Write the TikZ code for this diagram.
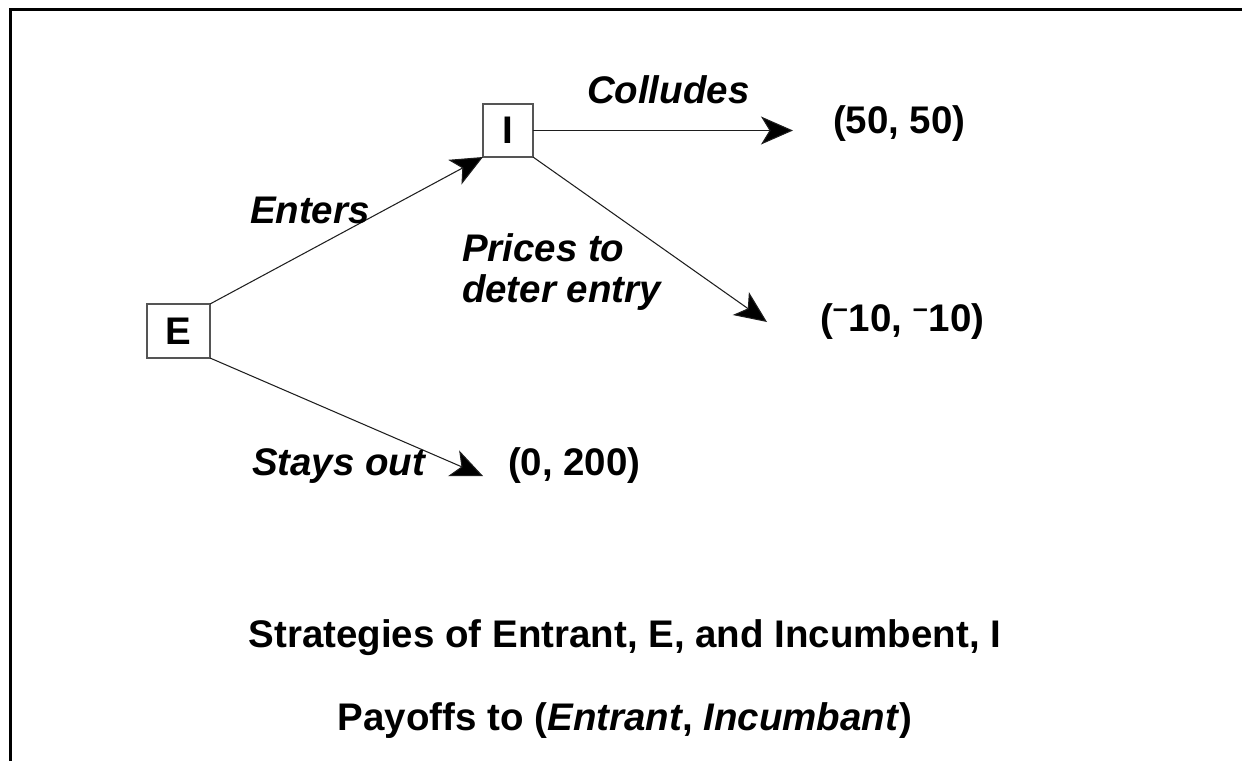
\documentclass[tikz,border=0pt]{standalone}
\usepackage{fontspec}
\setmainfont{Liberation Sans}
\usetikzlibrary{arrows.meta, positioning}
\definecolor{boxgris}{RGB}{85,85,85}
\definecolor{lignegris}{RGB}{30,30,30}

\begin{document}
\begin{tikzpicture}[x=0.02cm, y=-0.02cm,
  every node/.style={font=\fontsize{21.9}{22.8}\selectfont\bfseries, inner sep=0pt, outer sep=0pt},
  player/.style={rectangle, draw=boxgris, line width=0.6pt},
  branch/.style={draw=lignegris, line width=0.6pt, -{Stealth[length=0.64cm, width=0.56cm, inset=0.17cm, fill=black]}},
  move/.style={font=\fontsize{21.9}{22.8}\selectfont\bfseries\itshape, align=left}]
  \useasboundingbox (0,0) rectangle (1242,761);
  \draw[line width=1.7pt] (10.8,761) -- (10.8,9.5) -- (1242,9.5);

  % players
  \node[player, minimum width=1.26cm, minimum height=1.08cm] (E) at (178.5,331) {E};
  \node[player, minimum width=1.0cm, minimum height=1.06cm] (I) at (508,130.5) {I};

  % arrow ends
  \coordinate (collTip) at (793,130.5);
  \coordinate (deterTip) at (767,322);
  \coordinate (outTip) at (483,476);

  \draw[branch] (E.north east) -- (I.south west);
  \draw[branch] (E.south east) -- (outTip);
  \draw[branch] (I.east) -- (collTip);
  \draw[branch] (I.south east) -- (deterTip);

  % moves
  \node[move, anchor=base west] (colludes) at (587,103) {Colludes};
  \node[move, anchor=base west] (enters) at (250,223) {Enters};
  \node[move, anchor=base west] (deter) at (462,302) {Prices to\\deter entry};
  \node[move, anchor=base west] (staysout) at (252,475) {Stays out};

  % payoffs
  \node[anchor=base west] (payColl) at (833,133) {(50, 50)};
  \node[anchor=base west] (payDeter) at (820,331) {(\textsuperscript{--}10, \textsuperscript{--}10)};
  \node[anchor=base west] (payOut) at (508,475) {(0, 200)};

  % captions
  \node[anchor=base] (title) at (625,647) {Strategies of Entrant, E, and Incumbent, I};
  \node[anchor=base] (payoffs) at (625,730) {Payoffs to (\textit{Entrant}, \textit{Incumbant})};
\end{tikzpicture}
\end{document}
